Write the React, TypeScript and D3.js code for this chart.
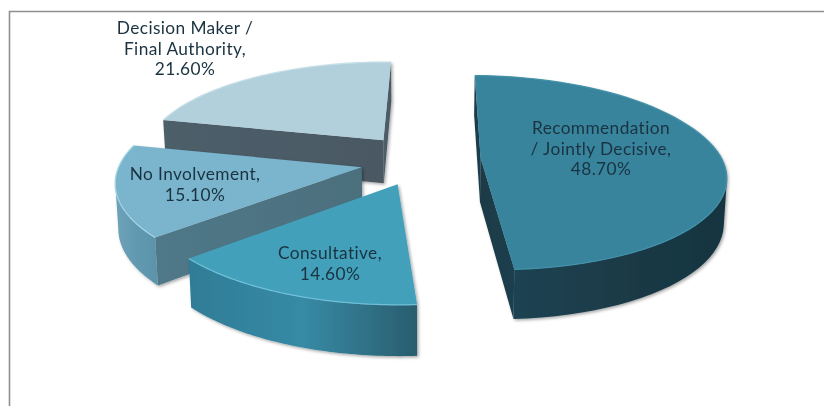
import React from "react";
import * as d3 from "d3";

const WIDTH = 824;
const HEIGHT = 406;

const categories = ["Recommendation / Jointly Decisive", "Consultative", "No Involvement", "Decision Maker / Final Authority"];
const values = [48.7, 14.6, 15.1, 21.6];
const labelLines = [
  ["Recommendation", "/ Jointly Decisive,"],
  ["Consultative,"],
  ["No Involvement,"],
  ["Decision Maker /", "Final Authority,"],
];
const labelCenters = [[601, 134], [330, 259], [195, 180], [185, 34]];
const topColors = ["#37849d", "#43a0bb", "#7ab5cd", "#b2d0dc"];
const rimColors = ["#4392aa", "#6fc0d8", "#a5d6e6", "#c5dfe8"];
const wallStops = [
  ["#1c4352", "#1a3a47", "#183540"],
  ["#2f7c97", "#378aa5", "#2a5d6e"],
  ["#6fa3ba", "#6199b0", "#5b93aa"],
  ["#4b5b66", "#4b5b66", "#4b5b66"],
];
const cutStops = [
  ["#1b3f4e", "#1a3a46"],
  ["#2e6c80", "#2e6c80"],
  ["#4c6f7d", "#4f7888"],
  ["#4a5964", "#4d5e69"],
];
const sliceDrop = [0, 3, 3, 0];

// projection of the tilted plane
const cx = 418, cy = 158.5, C = 241, A = 95, K = 0.15;
const EXPLODE = 0.25, DEPTH = 44, BOTTOM_SHRINK = 0.99, SHEAR = 6, SHEAR_FROM = 0.4;
const ROTATION = (1.2 * Math.PI) / 180;

type Pt = [number, number];
const s = (v: number) => 1 / (1 + K * v);
const shear = (v: number) => SHEAR * Math.max(0, SHEAR_FROM - v);
const projectTop = (u: number, v: number): Pt => [cx + C * u * s(v) + shear(v), cy - A * v * s(v)];
const projectBottom = (u: number, v: number): Pt => [
  cx + C * u * s(v) * BOTTOM_SHRINK + shear(v),
  cy - A * v * s(v) + DEPTH * Math.pow(s(v), 0.75),
];

const arcs = d3.pie<number>().sort(null).startAngle(ROTATION).endAngle(ROTATION + 2 * Math.PI)(values);
const poly = d3.line<Pt>().curve(d3.curveLinearClosed);
const open = d3.line<Pt>();

const slices = arcs.map((a, i) => {
  const mid = (a.startAngle + a.endAngle) / 2;
  const ou = EXPLODE * Math.sin(mid);
  const ov = EXPLODE * Math.cos(mid);
  const thetas = d3.range(0, 61).map((k) => a.startAngle + ((a.endAngle - a.startAngle) * k) / 60);
  const rim = thetas.map((t) => [ou + Math.sin(t), ov + Math.cos(t)] as Pt);
  const topArc = rim.map(([u, v]) => projectTop(u, v));
  const botArc = rim.map(([u, v]) => projectBottom(u, v));
  const apexTop = projectTop(ou, ov);
  const apexBot = projectBottom(ou, ov);
  // front-facing part of the round wall: where the clockwise rim runs leftwards
  const front = topArc.map((p, k) => (k > 0 ? topArc[k - 1][0] > p[0] : false));
  const firstFront = front.findIndex(Boolean);
  const lastFront = front.lastIndexOf(true);
  let wall: Pt[] | null = null;
  if (firstFront >= 0) {
    const from = firstFront - 1;
    wall = [...topArc.slice(from, lastFront + 1), ...botArc.slice(from, lastFront + 1).reverse()];
  }
  const n = topArc.length - 1;
  const cuts: Pt[][] = [];
  if (apexTop[0] < topArc[n][0] - 5) cuts.push([topArc[n], apexTop, apexBot, botArc[n]]);
  if (topArc[0][0] < apexTop[0] - 5) cuts.push([apexTop, topArc[0], botArc[0], apexBot]);
  return { i, topArc, apexTop, wall, cuts };
});

const drawOrder = [3, 2, 1, 0];

export default function App() {
  return (
    <svg
      width={WIDTH}
      height={HEIGHT}
      viewBox={`0 0 ${WIDTH} ${HEIGHT}`}
      style={{ position: "absolute", left: 0, top: 0, background: "#fff" }}
    >
      <title>{categories.join(", ")}</title>
      <defs>
        <filter id="shadow" x="-10%" y="-10%" width="120%" height="120%">
          <feDropShadow dx="1.5" dy="1.5" stdDeviation="1.5" floodColor="#000" floodOpacity="0.35" />
        </filter>
        <filter id="soft" x="-5%" y="-5%" width="110%" height="110%">
          <feGaussianBlur stdDeviation="0.35" />
        </filter>
        {values.map((_, i) => (
          <linearGradient key={`w${i}`} id={`wall${i}`} x1="0" x2="1" y1="0" y2="0">
            {wallStops[i].map((c, k) => (
              <stop key={k} offset={k / (wallStops[i].length - 1)} stopColor={c} />
            ))}
          </linearGradient>
        ))}
        {values.map((_, i) => (
          <linearGradient key={`c${i}`} id={`cut${i}`} x1="1" x2="0" y1="0" y2="0">
            {cutStops[i].map((c, k) => (
              <stop key={k} offset={k} stopColor={c} />
            ))}
          </linearGradient>
        ))}
      </defs>

      <path d="M9.5,406V11.5H824" fill="none" stroke="#8f8f8f" strokeWidth={1.6} />

      {drawOrder.map((idx) => {
        const sl = slices[idx];
        return (
          <g key={idx} transform={`translate(0,${sliceDrop[idx]})`}>
            <g filter="url(#shadow)">
              {sl.cuts.map((q, k) => (
                <path key={k} d={poly(q) ?? ""} fill={`url(#cut${idx})`} />
              ))}
              {sl.wall && <path d={poly(sl.wall) ?? ""} fill={`url(#wall${idx})`} />}
              <path d={poly([sl.apexTop, ...sl.topArc]) ?? ""} fill={topColors[idx]} />
            </g>
            <path d={open(sl.topArc) ?? ""} fill="none" stroke={rimColors[idx]} strokeWidth={1.2} />
          </g>
        );
      })}

      <g
        filter="url(#soft)"
        fontFamily="Lato, 'Open Sans', sans-serif"
        fontSize={17.3}
        letterSpacing={0.4}
        fill="#1a3340"
        textAnchor="middle"
      >
        {labelLines.map((lines, i) => {
          const [x, y] = labelCenters[i];
          return (
            <text key={i} x={x} y={y}>
              {lines.map((t, k) => (
                <tspan key={k} x={x} dy={k === 0 ? 0 : 20.5}>
                  {t}
                </tspan>
              ))}
              <tspan x={x} dy={20.5}>{`${values[i].toFixed(2)}%`}</tspan>
            </text>
          );
        })}
      </g>
    </svg>
  );
}
